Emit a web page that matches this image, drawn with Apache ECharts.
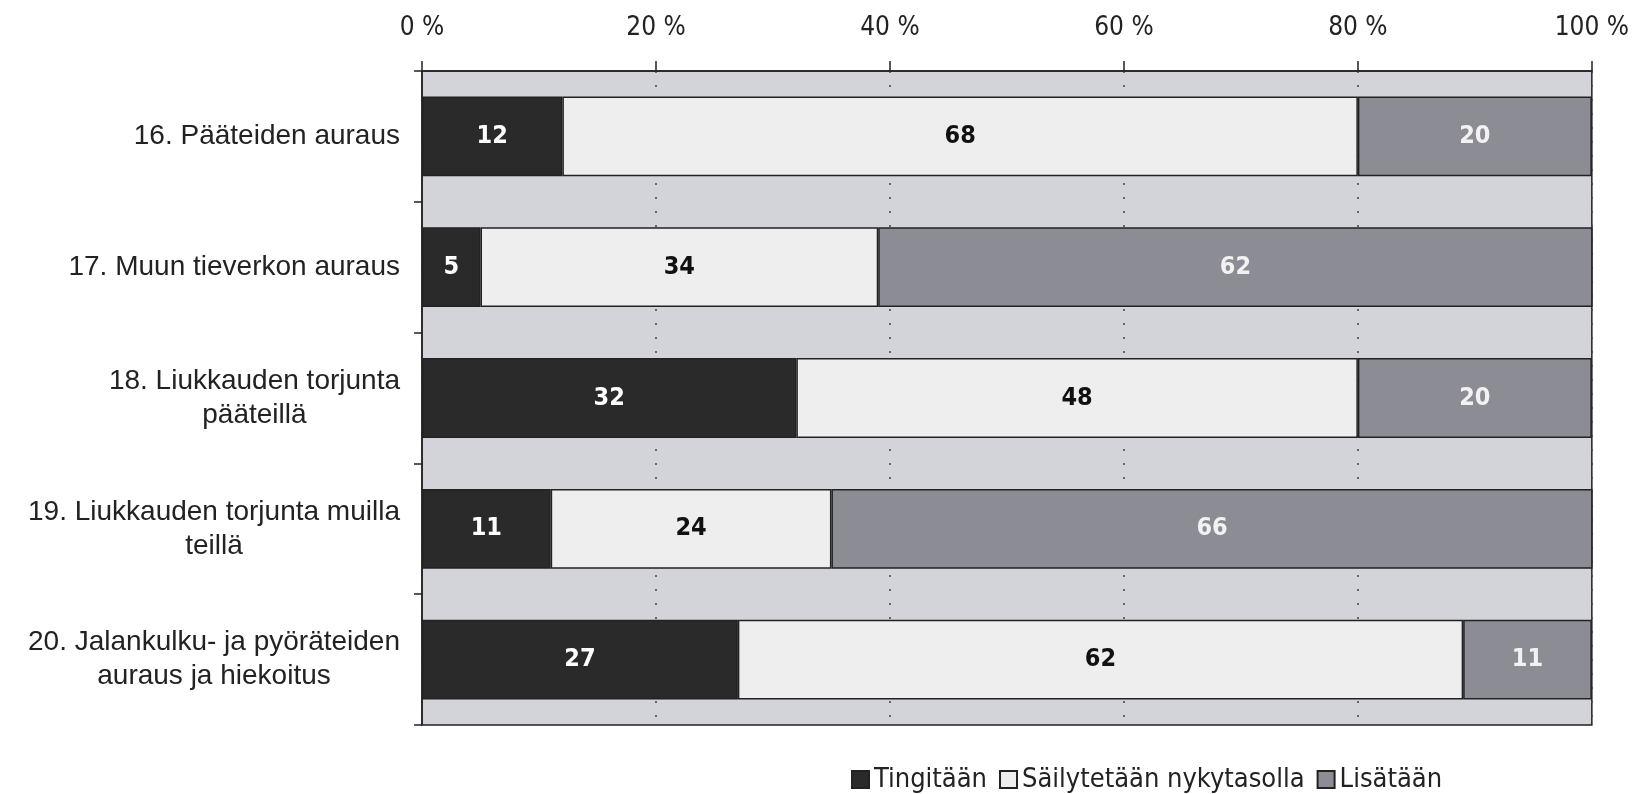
<!DOCTYPE html>
<html>
<head>
<meta charset="utf-8">
<script src="https://cdn.jsdelivr.net/npm/echarts@6/dist/echarts.min.js"></script>
<style>
  html, body { margin: 0; padding: 0; background: #fff; }
  #chart { width: 1632px; height: 794px; }
</style>
</head>
<body>
<div id="chart"></div>
<script>
const categories = [
  '16. Pääteiden auraus',
  '17. Muun tieverkon auraus',
  '18. Liukkauden torjunta\npääteillä',
  '19. Liukkauden torjunta muilla\nteillä',
  '20. Jalankulku- ja pyöräteiden\nauraus ja hiekoitus'
]
const seriesNames = ['Tingitään', 'Säilytetään nykytasolla', 'Lisätään']
const tingitaan = [12, 5, 32, 11, 27]
const sailytetaan = [68, 34, 48, 24, 62]
const lisataan = [20, 62, 20, 66, 11]
const tickValues = [0, 20, 40, 60, 80, 100]

const narrow = "'Liberation Sans Narrow', 'Arial Narrow', 'DejaVu Sans Condensed', sans-serif"
const regular = "'Liberation Sans', Arial, sans-serif"
const border = '#222'

const chart = echarts.init(document.getElementById('chart'))

const makeSeries = (name, data, color, labelColor) => ({
  name,
  type: 'bar',
  stack: 'total',
  data,
  barWidth: '61%',
  itemStyle: { color, borderColor: border, borderWidth: 1.5 },
  label: {
    show: true,
    position: 'inside',
    color: labelColor,
    fontFamily: narrow,
    fontWeight: 'bold',
    fontSize: 25
  }
})

chart.setOption({
  animation: false,
  grid: {
    left: 422,
    right: 40,
    top: 71,
    bottom: 69,
    show: true,
    backgroundColor: '#d3d3da',
    borderColor: border,
    borderWidth: 1.5
  },
  legend: {
    data: seriesNames,
    left: 846,
    top: 761,
    icon: 'rect',
    itemWidth: 17,
    itemHeight: 17,
    itemGap: 12,
    textStyle: { fontFamily: narrow, fontSize: 27, color: '#222' }
  },
  xAxis: {
    type: 'value',
    position: 'top',
    min: tickValues[0],
    max: tickValues[tickValues.length - 1],
    interval: 20,
    axisLine: { show: true, lineStyle: { color: border, width: 1.5 } },
    axisTick: { show: true, length: 10, lineStyle: { color: border, width: 1.5 } },
    axisLabel: {
      formatter: '{value} %',
      margin: 30,
      fontFamily: narrow,
      fontSize: 26,
      color: '#222'
    },
    splitLine: { show: true, lineStyle: { color: '#444', type: [2, 12], width: 1.5 } }
  },
  yAxis: {
    type: 'category',
    inverse: true,
    data: categories,
    axisLine: { show: true, lineStyle: { color: border, width: 1.5 } },
    axisTick: { show: true, length: 8, lineStyle: { color: border, width: 1.5 } },
    axisLabel: {
      margin: 22,
      formatter: (v) => v.split('\n').map((l) => `{c|${l}}`).join('\n'),
      rich: {
        c: {
          align: 'center',
          fontFamily: regular,
          fontSize: 28,
          lineHeight: 34,
          color: '#222'
        }
      }
    }
  },
  series: [
    makeSeries(seriesNames[0], tingitaan, '#2a2a2a', '#fff'),
    makeSeries(seriesNames[1], sailytetaan, '#eeeeee', '#111'),
    makeSeries(seriesNames[2], lisataan, '#8c8c94', '#f2f2f2')
  ]
})
</script>
</body>
</html>
